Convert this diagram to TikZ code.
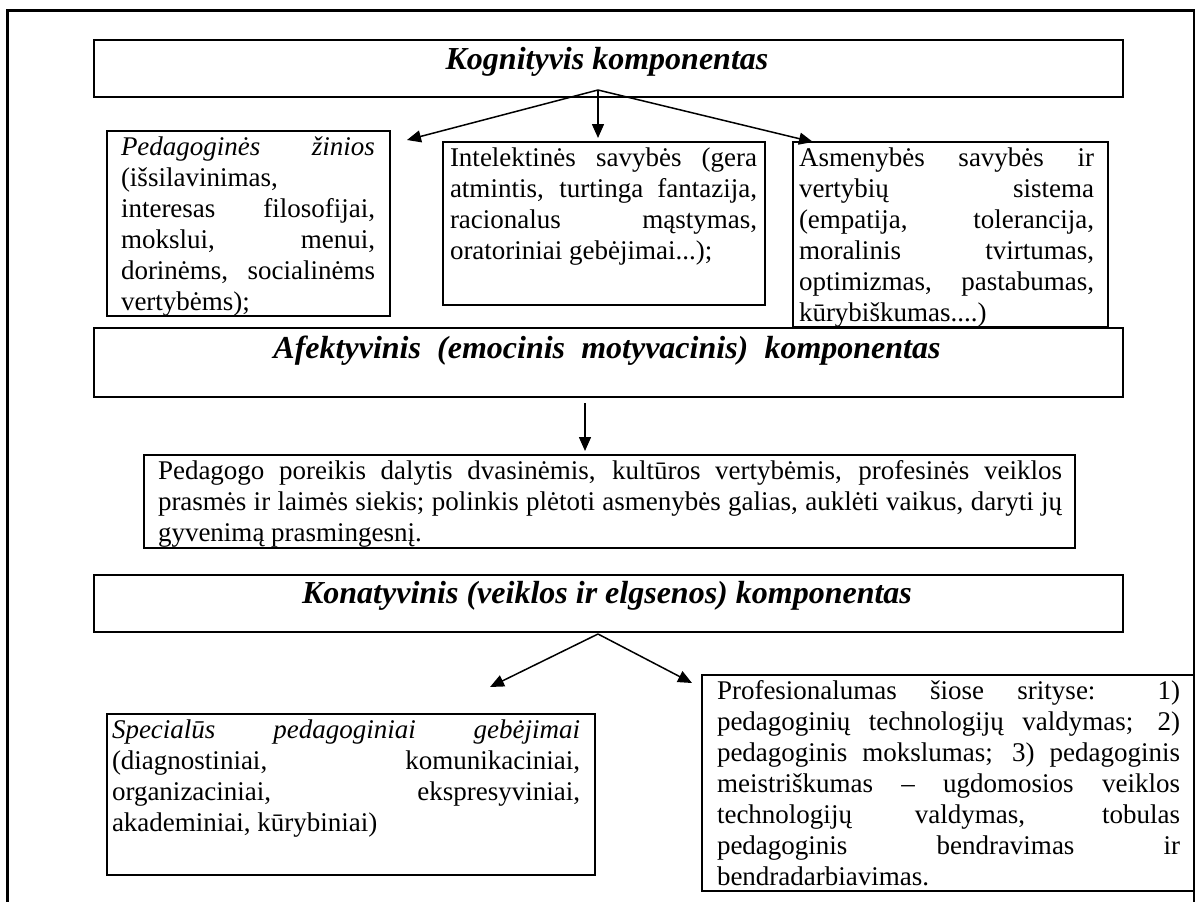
\documentclass[tikz,border=0pt]{standalone}
\usepackage{fontspec}
\setmainfont{Liberation Serif}
\usetikzlibrary{arrows.meta}
\newcommand{\bodyfont}{\fontsize{27bp}{31bp}\selectfont}
\newcommand{\headfont}{\fontsize{32bp}{36bp}\selectfont\bfseries\itshape}
\newcommand{\jl}[2]{\makebox[#1][s]{#2}}
\newcommand{\fl}{\rule{0pt}{24bp}}
\begin{document}
\begin{tikzpicture}[x=1bp,y=-1bp,
  bx/.style={draw, line width=2.4bp, rectangle, inner sep=0pt, outer sep=0pt, anchor=north west},
  txt/.style={anchor=north west, inner sep=0pt, outer sep=0pt, align=left, font=\bodyfont},
  head/.style={anchor=base, inner sep=0pt, font=\headfont},
  arr/.style={line width=1.5bp, -{Triangle[length=14bp,width=12bp]}},
  frm/.style={line width=2.6bp}]
\useasboundingbox (0,0) rectangle (1198,902);
% page frame
\coordinate (f1) at (7.5,902);
\coordinate (f2) at (7.5,10.5);
\coordinate (f3) at (1194,10.5);
\coordinate (f4) at (1194,902);
\draw[frm] (f1) -- (f2) -- (f3) -- (f4);

% boxes
\node[bx, minimum width=1029bp, minimum height=57bp] (kog) at (94,40) {};
\node[bx, minimum width=283bp, minimum height=185bp] (ped) at (107,131) {};
\node[bx, minimum width=322bp, minimum height=163bp] (int) at (443,142) {};
\node[bx, minimum width=315bp, minimum height=185bp] (asm) at (793,142) {};
\node[bx, minimum width=1029bp, minimum height=69bp] (afe) at (94,328) {};
\node[bx, minimum width=931bp, minimum height=93bp] (pdg) at (144,455) {};
\node[bx, minimum width=1029bp, minimum height=57bp] (kon) at (94,575) {};
\node[bx, minimum width=488bp, minimum height=161bp] (spe) at (107,714) {};
\node[bx, minimum width=492bp, minimum height=216bp] (pro) at (702,675) {};

% headings
\node[head] (kogt) at (607,69) {Kognityvis komponentas};
\node[head] (afet) at (607,358) {\jl{667bp}{Afektyvinis (emocinis motyvacinis) komponentas}};
\node[head] (kont) at (607,603) {Konatyvinis (veiklos ir elgsenos) komponentas};

% texts
\node[txt] (pedt) at (121,131) {\fl\jl{254bp}{\textit{Pedagoginės žinios}}\\
(išsilavinimas,\\
\jl{254bp}{interesas filosofijai,}\\
\jl{254bp}{mokslui, menui,}\\
\jl{254bp}{dorinėms, socialinėms}\\
vertybėms);};
\node[txt] (intt) at (450,142) {\fl\jl{307bp}{Intelektinės savybės (gera}\\
\jl{307bp}{atmintis, turtinga fantazija,}\\
\jl{307bp}{racionalus mąstymas,}\\
oratoriniai gebėjimai...);};
\node[txt] (asmt) at (799,142) {\fl\jl{295bp}{Asmenybės savybės ir}\\
\jl{295bp}{vertybių sistema}\\
\jl{295bp}{(empatija, tolerancija,}\\
\jl{295bp}{moralinis tvirtumas,}\\
\jl{295bp}{optimizmas, pastabumas,}\\
kūrybiškumas....)};
\node[txt] (pdgt) at (158,455) {\fl\jl{904bp}{Pedagogo poreikis dalytis dvasinėmis, kultūros vertybėmis, profesinės veiklos}\\
\jl{904bp}{prasmės ir laimės siekis; polinkis plėtoti asmenybės galias, auklėti vaikus, daryti jų}\\
gyvenimą prasmingesnį.};
\node[txt] (spet) at (112,714) {\fl\jl{468bp}{\textit{Specialūs pedagoginiai gebėjimai}}\\
\jl{468bp}{(diagnostiniai, komunikaciniai,}\\
\jl{468bp}{organizaciniai, ekspresyviniai,}\\
akademiniai, kūrybiniai)};
\node[txt] (prot) at (717,675) {\fl\jl{463bp}{Profesionalumas šiose srityse: 1)}\\
\jl{463bp}{pedagoginių technologijų valdymas; 2)}\\
\jl{463bp}{pedagoginis mokslumas; 3) pedagoginis}\\
\jl{463bp}{meistriškumas – ugdomosios veiklos}\\
\jl{463bp}{technologijų valdymas, tobulas}\\
\jl{463bp}{pedagoginis bendravimas ir}\\
bendradarbiavimas.};

% connectors
\coordinate (ap1) at (598,90);
\coordinate (t1l) at (407,140);
\coordinate (t1m) at (598,138);
\coordinate (t1r) at (813,142);
\draw[arr] (ap1) -- (t1l);
\draw[arr] (ap1) -- (t1m);
\draw[arr] (ap1) -- (t1r);

\coordinate (a2s) at (585,403);
\coordinate (a2e) at (585,451);
\draw[arr] (a2s) -- (a2e);

\coordinate (ap3) at (598,634);
\coordinate (t3l) at (490,687);
\coordinate (t3r) at (692,683);
\draw[arr] (ap3) -- (t3l);
\draw[arr] (ap3) -- (t3r);
\end{tikzpicture}
\end{document}
